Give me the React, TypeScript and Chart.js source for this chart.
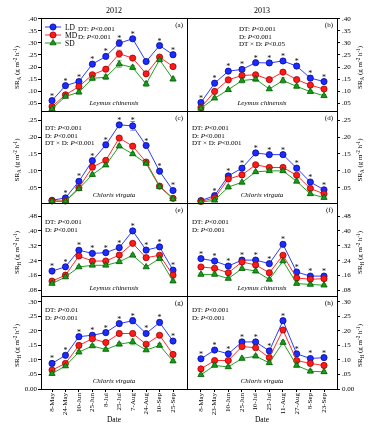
import React, { useEffect, useRef } from 'react';
import { Chart, registerables } from 'chart.js';
Chart.register(...registerables);

const W = 373;
const H = 430;
const SERIF = "'Liberation Serif', 'DejaVu Serif', 'Times New Roman', serif";

// ---------- categories ----------
const dates2012 = ['8-May', '24-May', '10-Jun', '25-Jun', '8-Jul', '25-Jul', '7-Aug', '24-Aug', '10-Sep', '25-Sep'];
const dates2013 = ['8-May', '23-May', '10-Jun', '25-Jun', '10-Jul', '25-Jul', '11-Aug', '27-Aug', '8-Sep', '23-Sep'];

// ---------- tick values ----------
const ticksSRA1 = [0.05, 0.1, 0.15, 0.2, 0.25, 0.3, 0.35, 0.4];
const ticksSRA2 = [0.05, 0.1, 0.15, 0.2, 0.25];
const ticksSRH1 = [0.08, 0.16, 0.24, 0.32, 0.4, 0.48];
const ticksSRH2 = [0, 0.05, 0.1, 0.15, 0.2, 0.25, 0.3];

// ---------- (a) SR_A, Leymus chinensis, 2012 ----------
const aLD = [0.061, 0.123, 0.140, 0.212, 0.244, 0.299, 0.317, 0.223, 0.289, 0.251];
const aMD = [0.036, 0.085, 0.119, 0.168, 0.191, 0.255, 0.237, 0.172, 0.241, 0.202];
const aSD = [0.027, 0.078, 0.096, 0.153, 0.158, 0.212, 0.198, 0.130, 0.230, 0.150];
const aLDerr = [0.008, 0.007, 0.008, 0.007, 0.007, 0.014, 0.009, 0.007, 0.008, 0.010];
const aMDerr = [0.005, 0.005, 0.008, 0.007, 0.006, 0.015, 0.008, 0.006, 0.008, 0.005];
const aSDerr = [0.004, 0.005, 0.008, 0.010, 0.010, 0.014, 0.009, 0.010, 0.008, 0.008];
const aStars = [1, 1, 1, 1, 1, 1, 1, 0, 1, 1];

// ---------- (b) SR_A, Leymus chinensis, 2013 ----------
const bLD = [0.053, 0.133, 0.183, 0.190, 0.218, 0.217, 0.225, 0.204, 0.154, 0.140];
const bMD = [0.032, 0.099, 0.147, 0.165, 0.168, 0.148, 0.179, 0.148, 0.125, 0.109];
const bSD = [0.029, 0.071, 0.106, 0.144, 0.150, 0.109, 0.144, 0.120, 0.098, 0.081];
const bLDerr = [0.007, 0.008, 0.008, 0.007, 0.008, 0.009, 0.009, 0.010, 0.009, 0.007];
const bMDerr = [0.004, 0.006, 0.008, 0.007, 0.007, 0.006, 0.005, 0.008, 0.006, 0.005];
const bSDerr = [0.004, 0.005, 0.006, 0.010, 0.010, 0.006, 0.011, 0.007, 0.005, 0.005];
const bStars = [1, 1, 1, 1, 1, 1, 1, 1, 1, 1];

// ---------- (c) SR_A, Chloris virgata, 2012 ----------
const cLD = [0.013, 0.020, 0.069, 0.130, 0.177, 0.236, 0.233, 0.175, 0.099, 0.042];
const cMD = [0.011, 0.011, 0.050, 0.111, 0.131, 0.197, 0.173, 0.126, 0.055, 0.019];
const cSD = [0.010, 0.010, 0.047, 0.089, 0.117, 0.173, 0.150, 0.122, 0.053, 0.017];
const cLDerr = [0.003, 0.004, 0.006, 0.007, 0.008, 0.006, 0.013, 0.005, 0.005, 0.005];
const cMDerr = [0.002, 0.002, 0.004, 0.007, 0.004, 0.005, 0.003, 0.004, 0.006, 0.003];
const cSDerr = [0.002, 0.002, 0.004, 0.005, 0.004, 0.004, 0.004, 0.004, 0.005, 0.003];
const cStars = [0, 1, 1, 1, 1, 1, 1, 1, 1, 1];

// ---------- (d) SR_A, Chloris virgata, 2013 ----------
const dLD = [0.012, 0.027, 0.085, 0.108, 0.153, 0.148, 0.148, 0.108, 0.067, 0.044];
const dMD = [0.010, 0.020, 0.076, 0.088, 0.118, 0.110, 0.110, 0.087, 0.048, 0.032];
const dSD = [0.008, 0.013, 0.052, 0.066, 0.097, 0.100, 0.100, 0.069, 0.032, 0.021];
const dLDerr = [0.002, 0.005, 0.005, 0.006, 0.006, 0.004, 0.005, 0.005, 0.004, 0.004];
const dMDerr = [0.002, 0.004, 0.005, 0.005, 0.005, 0.007, 0.007, 0.004, 0.003, 0.003];
const dSDerr = [0.002, 0.003, 0.005, 0.004, 0.003, 0.004, 0.004, 0.004, 0.003, 0.003];
const dStars = [0, 1, 1, 1, 1, 1, 1, 1, 1, 1];

// ---------- (e) SR_H, Leymus chinensis, 2012 ----------
const eLD = [0.184, 0.207, 0.296, 0.279, 0.283, 0.310, 0.400, 0.297, 0.314, 0.189];
const eMD = [0.130, 0.162, 0.265, 0.238, 0.238, 0.270, 0.333, 0.256, 0.269, 0.162];
const eSD = [0.117, 0.152, 0.206, 0.215, 0.215, 0.234, 0.269, 0.206, 0.251, 0.130];
const eLDerr = [0.012, 0.012, 0.012, 0.010, 0.010, 0.012, 0.010, 0.012, 0.010, 0.010];
const eMDerr = [0.008, 0.008, 0.008, 0.010, 0.010, 0.012, 0.010, 0.010, 0.008, 0.008];
const eSDerr = [0.006, 0.006, 0.006, 0.008, 0.008, 0.010, 0.008, 0.006, 0.008, 0.006];
const eStars = [1, 1, 1, 1, 1, 1, 1, 1, 1, 1];

// ---------- (f) SR_H, Leymus chinensis, 2013 ----------
const fLD = [0.251, 0.238, 0.211, 0.243, 0.243, 0.224, 0.328, 0.179, 0.157, 0.157];
const fMD = [0.206, 0.199, 0.175, 0.233, 0.217, 0.175, 0.269, 0.147, 0.140, 0.143];
const fSD = [0.166, 0.166, 0.144, 0.197, 0.184, 0.139, 0.238, 0.117, 0.112, 0.108];
const fLDerr = [0.010, 0.008, 0.008, 0.010, 0.010, 0.008, 0.010, 0.010, 0.008, 0.008];
const fMDerr = [0.010, 0.010, 0.008, 0.010, 0.010, 0.008, 0.010, 0.008, 0.008, 0.008];
const fSDerr = [0.008, 0.008, 0.006, 0.008, 0.010, 0.006, 0.008, 0.008, 0.006, 0.006];
const fStars = [1, 1, 1, 1, 1, 1, 1, 1, 1, 1];

// ---------- (g) SR_H, Chloris virgata, 2012 ----------
const gLD = [0.088, 0.116, 0.180, 0.185, 0.194, 0.225, 0.235, 0.191, 0.229, 0.165];
const gMD = [0.065, 0.088, 0.150, 0.173, 0.160, 0.191, 0.191, 0.154, 0.185, 0.119];
const gSD = [0.053, 0.079, 0.127, 0.148, 0.136, 0.154, 0.162, 0.134, 0.150, 0.096];
const gLDerr = [0.008, 0.007, 0.008, 0.007, 0.008, 0.008, 0.010, 0.006, 0.008, 0.006];
const gMDerr = [0.006, 0.005, 0.007, 0.008, 0.007, 0.008, 0.008, 0.006, 0.006, 0.006];
const gSDerr = [0.005, 0.005, 0.006, 0.005, 0.005, 0.006, 0.010, 0.005, 0.006, 0.005];
const gStars = [1, 1, 1, 1, 1, 1, 1, 1, 1, 1];

// ---------- (h) SR_H, Chloris virgata, 2013 ----------
const hLD = [0.104, 0.134, 0.121, 0.162, 0.162, 0.131, 0.235, 0.121, 0.105, 0.108];
const hMD = [0.069, 0.098, 0.098, 0.146, 0.142, 0.108, 0.203, 0.098, 0.088, 0.081];
const hSD = [0.049, 0.081, 0.076, 0.105, 0.113, 0.090, 0.160, 0.081, 0.061, 0.059];
const hLDerr = [0.006, 0.007, 0.007, 0.006, 0.006, 0.007, 0.008, 0.006, 0.007, 0.007];
const hMDerr = [0.005, 0.006, 0.007, 0.007, 0.006, 0.005, 0.007, 0.006, 0.007, 0.006];
const hSDerr = [0.004, 0.004, 0.005, 0.005, 0.005, 0.005, 0.007, 0.005, 0.006, 0.006];
const hStars = [1, 1, 1, 1, 1, 1, 1, 1, 1, 1];

// ---------- layout ----------
const ROW_EDGES = [18, 111, 203, 296, 389];
const X_LEFT = 41;
const X_MID = 187;
const X_RIGHT = 337;

const SERIES = [
  { name: 'LD', line: '#2b3cff', fill: '#1a2cff', edge: '#0a0a90', err: '#6f7cff', style: 'circle', r: 3.1 },
  { name: 'MD', line: '#ff2a2a', fill: '#ff1a1a', edge: '#a00000', err: '#ff7f7f', style: 'circle', r: 3.1 },
  { name: 'SD', line: '#22a022', fill: '#1a9a1a', edge: '#005a00', err: '#6cc46c', style: 'triangle', r: 3.6 },
];

type Seg = { t: string; italic?: boolean; sub?: boolean; sup?: boolean };

const srTitle = (letter: string): Seg[] => [
  { t: 'SR' }, { t: letter, sub: true }, { t: ' (g m' }, { t: '-2', sup: true }, { t: ' h' }, { t: '-1', sup: true }, { t: ')' },
];

const statSegs = (s: string): Seg[] => {
  const i = s.indexOf('P');
  return [{ t: s.slice(0, i) }, { t: 'P', italic: true }, { t: s.slice(i + 1) }];
};

function drawRich(ctx: CanvasRenderingContext2D, segs: Seg[], x: number, y: number, size: number, align: string, rotate = false) {
  ctx.save();
  ctx.translate(x, y);
  if (rotate) ctx.rotate(-Math.PI / 2);
  const parts = segs.map((s) => {
    const sz = s.sub || s.sup ? size * 0.72 : size;
    const font = `${s.italic ? 'italic ' : ''}${sz}px ${SERIF}`;
    ctx.font = font;
    return { ...s, font, w: ctx.measureText(s.t).width };
  });
  const total = parts.reduce((a, p) => a + p.w, 0);
  let cx = align === 'center' ? -total / 2 : align === 'right' ? -total : 0;
  ctx.textAlign = 'left';
  ctx.textBaseline = 'alphabetic';
  ctx.fillStyle = '#000';
  for (const p of parts) {
    ctx.font = p.font;
    const dy = p.sub ? size * 0.28 : p.sup ? -size * 0.38 : 0;
    ctx.fillText(p.t, cx, size * 0.34 + dy);
    cx += p.w;
  }
  ctx.restore();
}

function drawMarker(ctx: CanvasRenderingContext2D, s: any, x: number, y: number) {
  ctx.save();
  ctx.fillStyle = s.fill;
  ctx.strokeStyle = s.edge;
  ctx.lineWidth = 0.8;
  ctx.beginPath();
  if (s.style === 'circle') {
    ctx.arc(x, y, s.r, 0, Math.PI * 2);
  } else {
    for (let k = 0; k < 3; k++) {
      const a = (k * 2 * Math.PI) / 3;
      const px = x + Math.sin(a) * s.r;
      const py = y - Math.cos(a) * s.r;
      if (k === 0) ctx.moveTo(px, py);
      else ctx.lineTo(px, py);
    }
    ctx.closePath();
  }
  ctx.fill();
  ctx.stroke();
  ctx.restore();
}

type PanelDef = {
  id: string; row: number; col: number;
  ld: number[]; md: number[]; sd: number[];
  ldErr: number[]; mdErr: number[]; sdErr: number[];
  stars: number[];
  yMin: number; yMax: number; ticks: number[];
  species: string; stats: string[]; statDx: number; statDy: number;
  srLetter: string; legend?: boolean; year?: string;
};

const panels: PanelDef[] = [
  { id: 'a', row: 0, col: 0, ld: aLD, md: aMD, sd: aSD, ldErr: aLDerr, mdErr: aMDerr, sdErr: aSDerr, stars: aStars, yMin: 0.018, yMax: 0.403, ticks: ticksSRA1, species: 'Leymus chinensis', stats: ['DT: P<0.001', 'D: P<0.001'], statDx: 37, statDy: 11, srLetter: 'A', legend: true, year: '2012' },
  { id: 'b', row: 0, col: 1, ld: bLD, md: bMD, sd: bSD, ldErr: bLDerr, mdErr: bMDerr, sdErr: bSDerr, stars: bStars, yMin: 0.018, yMax: 0.403, ticks: ticksSRA1, species: 'Leymus chinensis', stats: ['DT: P<0.001', 'D: P<0.001', 'DT × D: P<0.05'], statDx: 52, statDy: 11, srLetter: 'A', year: '2013' },
  { id: 'c', row: 1, col: 0, ld: cLD, md: cMD, sd: cSD, ldErr: cLDerr, mdErr: cMDerr, sdErr: cSDerr, stars: cStars, yMin: 0.005, yMax: 0.277, ticks: ticksSRA2, species: 'Chloris virgata', stats: ['DT: P<0.001', 'D: P<0.001', 'DT × D: P<0.001'], statDx: 4, statDy: 17, srLetter: 'A' },
  { id: 'd', row: 1, col: 1, ld: dLD, md: dMD, sd: dSD, ldErr: dLDerr, mdErr: dMDerr, sdErr: dSDerr, stars: dStars, yMin: 0.005, yMax: 0.277, ticks: ticksSRA2, species: 'Chloris virgata', stats: ['DT: P<0.001', 'D: P<0.001', 'DT × D: P<0.001'], statDx: 5, statDy: 17, srLetter: 'A' },
  { id: 'e', row: 2, col: 0, ld: eLD, md: eMD, sd: eSD, ldErr: eLDerr, mdErr: eMDerr, sdErr: eSDerr, stars: eStars, yMin: 0.05, yMax: 0.55, ticks: ticksSRH1, species: 'Leymus chinensis', stats: ['DT: P<0.001', 'D: P<0.001'], statDx: 4, statDy: 19, srLetter: 'H' },
  { id: 'f', row: 2, col: 1, ld: fLD, md: fMD, sd: fSD, ldErr: fLDerr, mdErr: fMDerr, sdErr: fSDerr, stars: fStars, yMin: 0.05, yMax: 0.55, ticks: ticksSRH1, species: 'Leymus chinensis', stats: ['DT: P<0.001', 'D: P<0.001'], statDx: 5, statDy: 19, srLetter: 'H' },
  { id: 'g', row: 3, col: 0, ld: gLD, md: gMD, sd: gSD, ldErr: gLDerr, mdErr: gMDerr, sdErr: gSDerr, stars: gStars, yMin: 0, yMax: 0.32, ticks: ticksSRH2, species: 'Chloris virgata', stats: ['DT: P<0.01', 'D: P<0.001'], statDx: 4, statDy: 14, srLetter: 'H' },
  { id: 'h', row: 3, col: 1, ld: hLD, md: hMD, sd: hSD, ldErr: hLDerr, mdErr: hMDerr, sdErr: hSDerr, stars: hStars, yMin: 0, yMax: 0.32, ticks: ticksSRH2, species: 'Chloris virgata', stats: ['DT: P<0.001', 'D: P<0.001'], statDx: 5, statDy: 14, srLetter: 'H' },
];

const fmtTick = (v: number) => (v === 0 ? '0.00' : v.toFixed(2).replace(/^0/, ''));

function makePlugin(p: PanelDef) {
  const left = p.col === 0;
  const vals = [p.ld, p.md, p.sd];
  const errs = [p.ldErr, p.mdErr, p.sdErr];
  return {
    id: 'panel_' + p.id,
    beforeDatasetsDraw(chart: any) {
      const ctx = chart.ctx as CanvasRenderingContext2D;
      const ys = chart.scales.y;
      ctx.save();
      ctx.lineWidth = 0.9;
      vals.forEach((arr, si) => {
        const meta = chart.getDatasetMeta(si);
        ctx.strokeStyle = SERIES[si].err;
        arr.forEach((v, i) => {
          const x = meta.data[i].x;
          const y1 = ys.getPixelForValue(v + errs[si][i]);
          const y2 = ys.getPixelForValue(v - errs[si][i]);
          ctx.beginPath();
          ctx.moveTo(x, y1); ctx.lineTo(x, y2);
          ctx.moveTo(x - 2.4, y1); ctx.lineTo(x + 2.4, y1);
          ctx.moveTo(x - 2.4, y2); ctx.lineTo(x + 2.4, y2);
          ctx.stroke();
        });
      });
      ctx.restore();
    },
    afterDraw(chart: any) {
      const ctx = chart.ctx as CanvasRenderingContext2D;
      const ca = chart.chartArea;
      const ys = chart.scales.y;
      const meta = chart.getDatasetMeta(0);
      ctx.save();
      // panel frame
      ctx.strokeStyle = '#000';
      ctx.lineWidth = 1;
      ctx.strokeRect(Math.round(ca.left) + 0.5, Math.round(ca.top) + 0.5, Math.round(ca.right - ca.left), Math.round(ca.bottom - ca.top));
      // significance stars above LD
      ctx.fillStyle = '#000';
      ctx.font = `8px ${SERIF}`;
      ctx.textAlign = 'center';
      ctx.textBaseline = 'alphabetic';
      p.stars.forEach((s, i) => {
        if (!s) return;
        const x = meta.data[i].x;
        const yTop = Math.min(ys.getPixelForValue(p.ld[i] + p.ldErr[i]), meta.data[i].y - 3.5);
        ctx.fillText('*', x, yTop + 1.5);
      });
      ctx.restore();
      // panel letter
      drawRich(ctx, [{ t: `(${p.id})` }], ca.right - 4, ca.top + 7, 7, 'right');
      // statistics
      p.stats.forEach((s, k) => {
        drawRich(ctx, statSegs(s), ca.left + p.statDx, ca.top + p.statDy + k * 7.4, 7, 'left');
      });
      // species
      drawRich(ctx, [{ t: p.species, italic: true }], (ca.left + ca.right) / 2, ca.bottom - 8, 7, 'center');
      // y axis title
      const tx = left ? 17 : 360;
      drawRich(ctx, srTitle(p.srLetter), tx, (ca.top + ca.bottom) / 2 + 3, 7, 'center', true);
      // year title
      if (p.year) drawRich(ctx, [{ t: p.year }], (ca.left + ca.right) / 2, 10, 8, 'center');
      // x axis title
      if (p.row === 3) drawRich(ctx, [{ t: 'Date' }], (ca.left + ca.right) / 2, 419, 7.5, 'center');
      // legend
      if (p.legend) {
        SERIES.forEach((s, k) => {
          const y = ca.top + 9 + k * 8;
          const x0 = ca.left + 4;
          ctx.save();
          ctx.strokeStyle = s.line;
          ctx.lineWidth = 1;
          ctx.beginPath();
          ctx.moveTo(x0, y); ctx.lineTo(x0 + 16, y);
          ctx.stroke();
          ctx.restore();
          drawMarker(ctx, s, x0 + 8, y);
          drawRich(ctx, [{ t: s.name }], x0 + 20, y, 7.5, 'left');
        });
      }
    },
  };
}

function makeConfig(p: PanelDef): any {
  const left = p.col === 0;
  const top = ROW_EDGES[p.row];
  const bottom = ROW_EDGES[p.row + 1];
  const bottomRow = p.row === 3;
  const dates = left ? dates2012 : dates2013;
  const vals = [p.ld, p.md, p.sd];
  const xScale: any = {
    type: 'linear',
    min: left ? -0.82 : -1.02,
    max: left ? 10.04 : 9.95,
    display: bottomRow,
    afterBuildTicks: (s: any) => { s.ticks = dates.map((_, i) => ({ value: i })); },
    ticks: {
      autoSkip: false, minRotation: 90, maxRotation: 90, padding: 1, color: '#000',
      font: { size: 7, family: SERIF },
      callback: (v: number) => dates[v] ?? '',
    },
    grid: { display: true, drawOnChartArea: false, drawTicks: true, tickLength: 3, color: '#000', lineWidth: 1 },
    border: { display: false },
  };
  if (bottomRow) xScale.afterFit = (s: any) => { s.height = H - ROW_EDGES[4]; };
  return {
    type: 'line',
    data: {
      datasets: SERIES.map((s, si) => ({
        label: s.name,
        data: vals[si].map((v, i) => ({ x: i, y: v })),
        borderColor: s.line,
        borderWidth: 1,
        backgroundColor: s.fill,
        pointBackgroundColor: s.fill,
        pointBorderColor: s.edge,
        pointBorderWidth: 0.8,
        pointStyle: s.style,
        pointRadius: s.r,
        tension: 0,
        clip: false,
        order: 3 - si,
      })),
    },
    options: {
      responsive: false,
      animation: false,
      devicePixelRatio: 1,
      events: [],
      layout: {
        padding: {
          left: left ? 0 : X_MID,
          right: left ? W - X_MID : 0,
          top,
          bottom: bottomRow ? 0 : H - bottom,
        },
      },
      plugins: { legend: { display: false }, tooltip: { enabled: false }, title: { display: false } },
      scales: {
        x: xScale,
        y: {
          type: 'linear',
          position: left ? 'left' : 'right',
          min: p.yMin,
          max: p.yMax,
          afterBuildTicks: (s: any) => { s.ticks = p.ticks.map((v) => ({ value: v })); },
          afterFit: (s: any) => { s.width = left ? X_LEFT : W - X_RIGHT; },
          ticks: { padding: left ? 1 : 2, color: '#000', font: { size: 7, family: SERIF }, callback: (v: number) => fmtTick(v) },
          grid: { display: true, drawOnChartArea: false, drawTicks: true, tickLength: 3, color: '#000', lineWidth: 1 },
          border: { display: false },
        },
      },
    },
    plugins: [makePlugin(p)],
  };
}

function Panel({ p }: { p: PanelDef }) {
  const ref = useRef<HTMLCanvasElement>(null);
  useEffect(() => {
    if (!ref.current) return;
    const chart = new Chart(ref.current, makeConfig(p));
    return () => chart.destroy();
  }, [p]);
  return (
    <canvas
      ref={ref}
      width={W}
      height={H}
      style={{ position: 'absolute', left: 0, top: 0, width: W, height: H }}
    />
  );
}

export default function App() {
  return (
    <div style={{ position: 'fixed', left: 0, top: 0, width: W, height: H, background: '#fff', overflow: 'hidden' }}>
      {panels.map((p) => (
        <Panel key={p.id} p={p} />
      ))}
    </div>
  );
}
